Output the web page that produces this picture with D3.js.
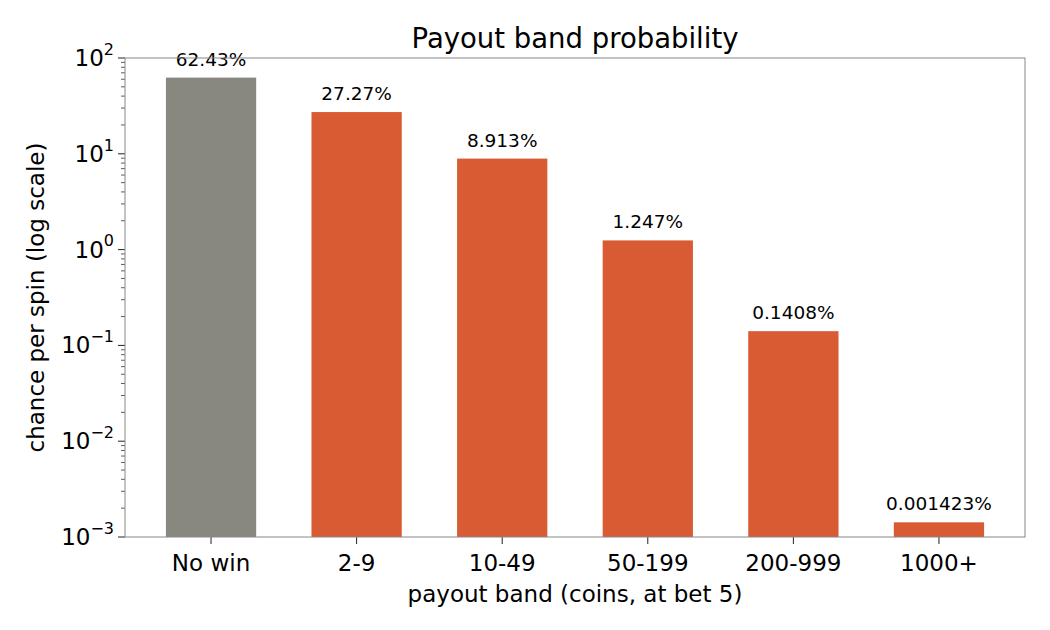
<!DOCTYPE html>
<html>
<head>
<meta charset="utf-8">
<script src="https://cdn.jsdelivr.net/npm/d3@7"></script>
<style>
  body { margin: 0; background: #fff; }
  text { font-family: "DejaVu Sans", sans-serif; fill: #000; }
</style>
</head>
<body>
<div id="svg-area"></div>
<script>
var svgWidth = 1050;
var svgHeight = 630;

// chart data (percent chance per spin)
var bands = ["No win", "2-9", "10-49", "50-199", "200-999", "1000+"];
var chances = [62.43, 27.27, 8.913, 1.247, 0.1408, 0.001423];
var barLabels = ["62.43%", "27.27%", "8.913%", "1.247%", "0.1408%", "0.001423%"];
var yTickExps = [-3, -2, -1, 0, 1, 2];

var margin = { top: 58, right: 25, bottom: 93, left: 125 };
var width = svgWidth - margin.left - margin.right;
var height = svgHeight - margin.top - margin.bottom;
var barW = 0.62;

var svg = d3.select("#svg-area")
  .append("svg")
  .attr("width", svgWidth)
  .attr("height", svgHeight);

var g = svg.append("g")
  .attr("transform", "translate(" + margin.left + "," + margin.top + ")");

// bar index on a linear scale, with matplotlib-like margins
var pad = barW / 2 + 0.05 * (bands.length - 1 + barW);
var x = d3.scaleLinear().domain([-pad, bands.length - 1 + pad]).range([0, width]);
var y = d3.scaleLog().domain([1e-3, 1e2]).range([height, 0]);

// bars
g.selectAll(".bar")
  .data(chances)
  .enter()
  .append("rect")
  .attr("x", function(d, i) { return x(i - barW / 2); })
  .attr("width", x(barW) - x(0))
  .attr("y", function(d) { return y(d); })
  .attr("height", function(d) { return height - y(d); })
  .attr("fill", function(d, i) { return i === 0 ? "#888880" : "#d95b33"; });

// value labels
g.selectAll(".lbl")
  .data(chances)
  .enter()
  .append("text")
  .attr("x", function(d, i) { return x(i); })
  .attr("y", function(d) { return y(d) - 12; })
  .attr("text-anchor", "middle")
  .style("font-size", "18.5px")
  .text(function(d, i) { return barLabels[i]; });

// minor y ticks
var minor = [];
for (var e = -3; e < 2; e++) {
  for (var m = 2; m <= 9; m++) minor.push(m * Math.pow(10, e));
}
g.selectAll(".minor")
  .data(minor)
  .enter()
  .append("line")
  .attr("x1", -4).attr("x2", 0)
  .attr("y1", function(d) { return y(d); })
  .attr("y2", function(d) { return y(d); })
  .attr("stroke", "#333").attr("stroke-width", 0.8);

// major y ticks
var yt = g.selectAll(".ytick")
  .data(yTickExps)
  .enter()
  .append("g")
  .attr("transform", function(d) { return "translate(0," + y(Math.pow(10, d)) + ")"; });
yt.append("line").attr("x1", -7).attr("x2", 0).attr("stroke", "#222").attr("stroke-width", 1);
var ytx = yt.append("text")
  .attr("x", -11)
  .attr("dy", "0.35em")
  .attr("text-anchor", "end")
  .style("font-size", "23px");
ytx.append("tspan").text("10");
ytx.append("tspan")
  .attr("dy", "-0.7em")
  .style("font-size", "16px")
  .text(function(d) { return d < 0 ? "\u2212" + (-d) : d; });

// x ticks
var xt = g.selectAll(".xtick")
  .data(bands)
  .enter()
  .append("g")
  .attr("transform", function(d, i) { return "translate(" + x(i) + "," + height + ")"; });
xt.append("line").attr("y1", 0).attr("y2", 7).attr("stroke", "#222").attr("stroke-width", 1);
xt.append("text")
  .attr("y", 26)
  .attr("dy", "0.35em")
  .attr("text-anchor", "middle")
  .style("font-size", "23px")
  .text(function(d) { return d; });

// frame
g.append("rect")
  .attr("width", width).attr("height", height)
  .attr("fill", "none").attr("stroke", "#888").attr("stroke-width", 1);

// title and axis labels
svg.append("text")
  .attr("x", margin.left + width / 2).attr("y", 38)
  .attr("dy", "0.35em")
  .attr("text-anchor", "middle")
  .style("font-size", "27.5px")
  .text("Payout band probability");

svg.append("text")
  .attr("x", margin.left + width / 2).attr("y", 594)
  .attr("dy", "0.35em")
  .attr("text-anchor", "middle")
  .style("font-size", "23px")
  .text("payout band (coins, at bet 5)");

svg.append("text")
  .attr("transform", "translate(36," + (margin.top + height / 2) + ") rotate(-90)")
  .attr("dy", "0.35em")
  .attr("text-anchor", "middle")
  .style("font-size", "23px")
  .text("chance per spin (log scale)");
</script>
</body>
</html>
